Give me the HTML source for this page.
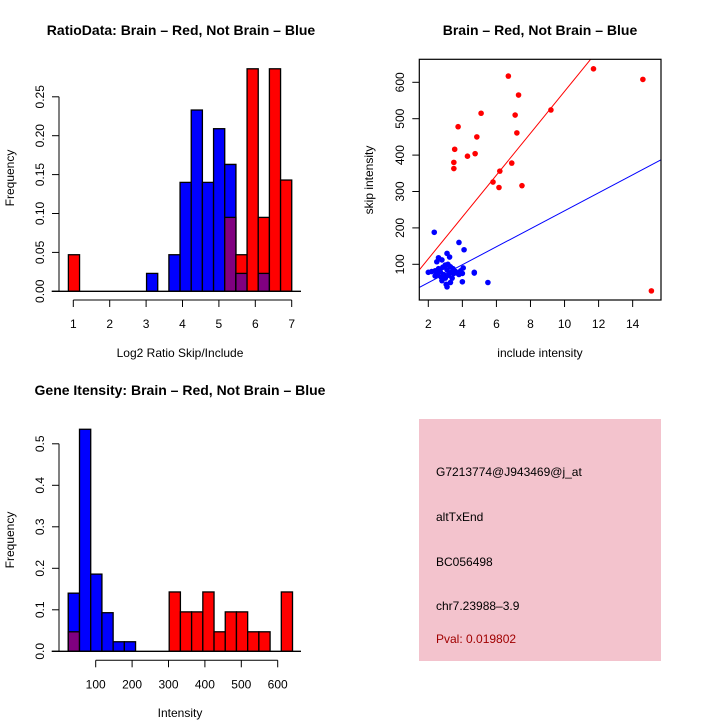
<!DOCTYPE html>
<html><head><meta charset="utf-8"><style>
body{margin:0;background:#fff;}
svg{display:block;font-family:"Liberation Sans",sans-serif;}
</style></head><body>
<svg id="c" width="720" height="720" viewBox="0 0 720 720">
<text x="181" y="35" font-size="14" font-weight="bold" text-anchor="middle">RatioData: Brain – Red, Not Brain – Blue</text>
<text x="540" y="35" font-size="14" font-weight="bold" text-anchor="middle">Brain – Red, Not Brain – Blue</text>
<text x="180" y="395" font-size="14" font-weight="bold" text-anchor="middle">Gene Itensity: Brain – Red, Not Brain – Blue</text>
<text x="180" y="357" font-size="12" text-anchor="middle">Log2 Ratio Skip/Include</text>
<text transform="translate(14,178) rotate(-90)" font-size="12" text-anchor="middle">Frequency</text>
<text x="540" y="357" font-size="12" text-anchor="middle">include intensity</text>
<text transform="translate(373,180) rotate(-90)" font-size="12" text-anchor="middle">skip intensity</text>
<text x="180" y="717" font-size="12" text-anchor="middle">Intensity</text>
<text transform="translate(14,540) rotate(-90)" font-size="12" text-anchor="middle">Frequency</text>
<g>
<rect x="419" y="419" width="242" height="242" fill="#f3c3cd"/>
<text x="436" y="476" font-size="12">G7213774@J943469@j_at</text>
<text x="436" y="521" font-size="12">altTxEnd</text>
<text x="436" y="566" font-size="12">BC056498</text>
<text x="436" y="610" font-size="12">chr7.23988–3.9</text>
<text x="436" y="643" font-size="12" fill="#a00000">Pval: 0.019802</text>
</g>
<g id="h1"></g><g id="sc"></g><g id="h2"></g>
</svg>
<script>
// Ratio histogram data
const ratioBinStart = 0.865, ratioBinWidth = 0.3068;
const ratioRed = [0.047,0,0,0,0,0,0,0,0,0,0,0,0,0,0.095,0.047,0.286,0.095,0.286,0.143];
const ratioBlue = [0,0,0,0,0,0,0,0.023,0,0.047,0.140,0.233,0.140,0.209,0.163,0.023,0,0.023,0,0];
const ratioXTicks = [1,2,3,4,5,6,7];
const ratioYTicks = ["0.00","0.05","0.10","0.15","0.20","0.25"];
// Intensity histogram data
const intBinStart = 24.7, intBinWidth = 30.8;
const intRed = [0.047,0,0,0,0,0,0,0,0,0.143,0.095,0.095,0.143,0.047,0.095,0.095,0.047,0.047,0,0.143];
const intBlue = [0.140,0.535,0.186,0.093,0.023,0.023,0,0,0,0,0,0,0,0,0,0,0,0,0,0];
const intXTicks = [100,200,300,400,500,600];
const intYTicks = ["0.0","0.1","0.2","0.3","0.4","0.5"];
// Scatter data
const redX = [11.7,6.7,14.6,7.3,9.2,5.1,7.1,3.75,7.2,4.85,3.55,4.3,4.75,3.5,6.9,3.5,6.2,5.8,6.15,7.5,15.1];
const redY = [637,617,608,565,524,515,510,478,461,450,416,397,404,380,378,363,356,326,311,316,27];
const blueX = [2.35,3.8,4.1,3.1,3.25,2.6,2.8,2.5,3.0,3.3,2.0,2.4,2.5,2.7,2.9,3.1,3.2,3.5,3.6,3.8,4.0,4.05,4.7,4.7,5.5,4.0,3.1,3.3,2.8,2.4,3.0,3.4,2.6,2.85,3.15,3.7,2.2,3.05,2.75,3.35,3.9,2.55,3.45];
const blueY = [188,160,140,130,120,118,112,107,98,93,78,82,75,80,72,85,70,75,80,72,75,90,78,76,50,52,38,50,55,68,62,62,88,92,100,76,80,45,65,78,82,72,88];
const scXTicks = [2,4,6,8,10,12,14];
const scYTicks = [100,200,300,400,500,600];
const redSlope = 57.5, blueSlope = 24.7;

const NS="http://www.w3.org/2000/svg";
function mk(p,t,a){const e=document.createElementNS(NS,t);for(const k in a)e.setAttribute(k,a[k]);p.appendChild(e);return e;}

function hist(g,o){
  const X=v=>o.x0+(v-o.xv0)*o.xs, Y=v=>o.y0-v*o.ys;
  const n=o.red.length;
  for(let i=0;i<n;i++){
    const l=X(o.bs+i*o.bw), r=X(o.bs+(i+1)*o.bw), w=r-l;
    const rv=o.red[i], bv=o.blue[i];
    if(bv>0){
      const e=mk(g,'rect',{x:l,y:Y(bv),width:w,height:Y(0)-Y(bv),fill:'#0000ff',stroke:'#000','stroke-width':1.3});
      
      
    }
    if(rv>0){
      const e=mk(g,'rect',{x:l,y:Y(rv),width:w,height:Y(0)-Y(rv),fill:'#ff0000',stroke:'#000','stroke-width':1.3});
      
      
      if(bv>rv){ // blue should show above red part
        const b=mk(g,'rect',{x:l,y:Y(bv),width:w,height:Y(0)-Y(bv),fill:'#0000ff',stroke:'#000','stroke-width':1.3});
        
        
      }
    }
    if(rv>0&&bv>0){
      const m=Math.min(rv,bv);
      const e=mk(g,'rect',{x:l,y:Y(m),width:w,height:Y(0)-Y(m),fill:'#800080',stroke:'#000','stroke-width':1.3});
      
      
    }
  }
  mk(g,'line',{x1:51.7,x2:301,y1:Y(0),y2:Y(0),stroke:'#000','stroke-width':1.3});
  // y axis
  const yv=o.yt.map(Number);
  mk(g,'line',{x1:59,x2:59,y1:Y(yv[0]),y2:Y(yv[yv.length-1]),stroke:'#000','stroke-width':1});
  o.yt.forEach((t,i)=>{
    const y=Y(yv[i]);
    mk(g,'line',{x1:52,x2:59,y1:y,y2:y,stroke:'#000'});
    const e=mk(g,'text',{transform:`translate(44,${y}) rotate(-90)`,'font-size':12,'text-anchor':'middle'});
    e.textContent=t;
    
    
  });
  // x axis
  const xa=o.xt;
  mk(g,'line',{x1:X(xa[0]),x2:X(xa[xa.length-1]),y1:o.xay,y2:o.xay,stroke:'#000'});
  xa.forEach(t=>{
    const x=X(t);
    mk(g,'line',{x1:x,x2:x,y1:o.xay,y2:o.xay+7,stroke:'#000'});
    const e=mk(g,'text',{x:x,y:o.xay+28,'font-size':12,'text-anchor':'middle'});
    e.textContent=t;
    
    
  });
}
hist(document.getElementById('h1'),{x0:73.3,xv0:1,xs:36.4,y0:291.3,ys:778,bs:ratioBinStart,bw:ratioBinWidth,red:ratioRed,blue:ratioBlue,xt:ratioXTicks,yt:ratioYTicks,xay:300});
hist(document.getElementById('h2'),{x0:95.7,xv0:100,xs:0.364,y0:651.3,ys:415,bs:intBinStart,bw:intBinWidth,red:intRed,blue:intBlue,xt:intXTicks,yt:intYTicks,xay:660.3});

// scatter
(function(){
  const g=document.getElementById('sc');
  const L=419.3,R=661,T=59.3,B=300;
  const X=v=>428.3+(v-2)*17.03, Y=v=>264.3-(v-100)*0.364;
  const cp=mk(g,'clipPath',{id:'scclip'});mk(cp,'rect',{x:L,y:T,width:R-L,height:B-T});
  const xl=(R-L)/17.03, xa=2+(L-428.3)/17.03, xb=2+(R-428.3)/17.03;
  [[redSlope,'#ff0000','red-fit-line'],[blueSlope,'#0000ff','blue-fit-line']].forEach(([s,c,n])=>{
    const e=mk(g,'line',{x1:X(xa),y1:Y(s*xa),x2:X(xb),y2:Y(s*xb),stroke:c,'stroke-width':1,'clip-path':'url(#scclip)'});
    
    
  });
  blueX.forEach((x,i)=>{
    const e=mk(g,'circle',{cx:X(x),cy:Y(blueY[i]),r:2.8,fill:'#0000ff'});
    
    
  });
  redX.forEach((x,i)=>{
    const e=mk(g,'circle',{cx:X(x),cy:Y(redY[i]),r:2.8,fill:'#ff0000'});
    
    
  });
  const bx=mk(g,'rect',{x:L,y:T,width:R-L,height:B-T,fill:'none',stroke:'#000','stroke-width':1.2});
  
  
  scXTicks.forEach(t=>{
    const x=X(t);
    mk(g,'line',{x1:x,x2:x,y1:B,y2:B+7,stroke:'#000'});
    const e=mk(g,'text',{x:x,y:B+28,'font-size':12,'text-anchor':'middle'});
    e.textContent=t;
    
    
  });
  scYTicks.forEach(t=>{
    const y=Y(t);
    mk(g,'line',{x1:L-7,x2:L,y1:y,y2:y,stroke:'#000'});
    const e=mk(g,'text',{transform:`translate(404,${y}) rotate(-90)`,'font-size':12,'text-anchor':'middle'});
    e.textContent=t;
    
    
  });
})();
</script>
</body></html>
